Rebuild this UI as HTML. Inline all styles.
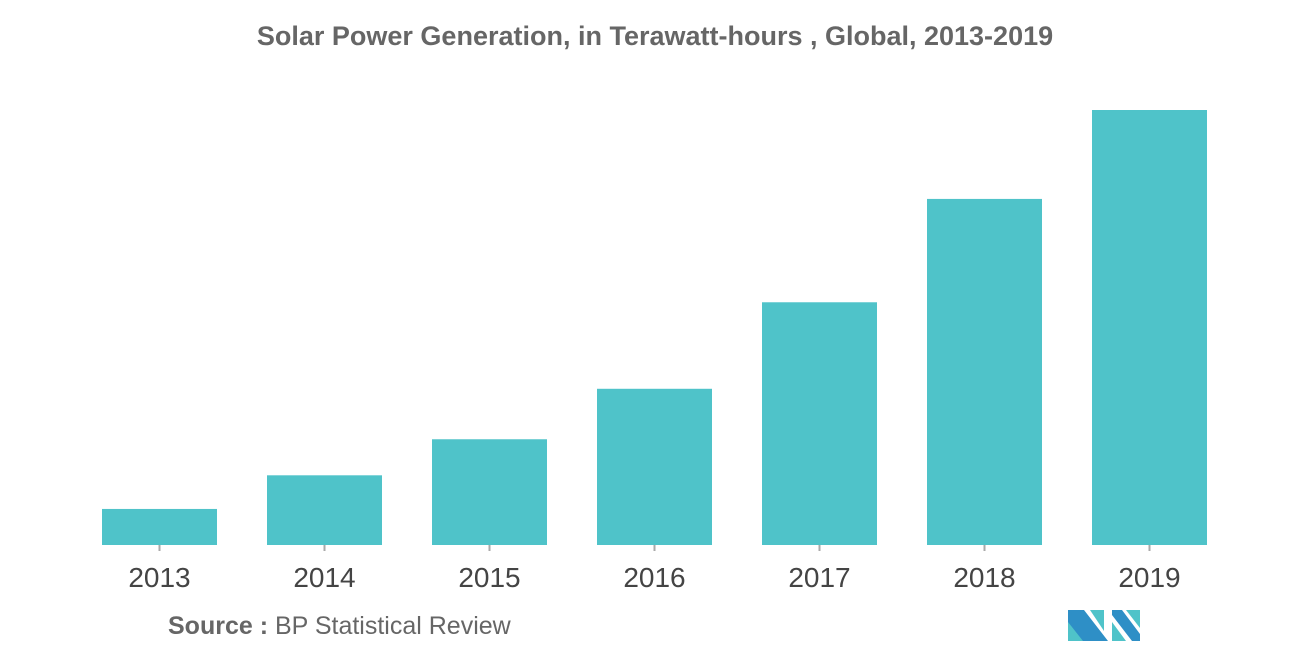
<!DOCTYPE html>
<html><head><meta charset="utf-8"><style>
body{margin:0;background:#fff;font-family:"Liberation Sans",sans-serif;}
</style></head><body>
<svg width="1310" height="655" xmlns="http://www.w3.org/2000/svg">
<text x="655" y="45" text-anchor="middle" font-size="27" fill="#666" font-weight="bold">Solar Power Generation, in Terawatt-hours , Global, 2013-2019</text>
<g id="bars"></g>
<g id="xlabels"></g>
<text x="168" y="634" font-size="25" fill="#666"><tspan font-weight="bold">Source :</tspan> BP Statistical Review</text>
<g>
<polygon points="1068,610 1084,610 1108,641 1068,641" fill="#2e8fc6"/>
<polygon points="1068,622 1083,641 1068,641" fill="#4fc3c9"/>
<polygon points="1090,610 1104,610 1104,631" fill="#4fc3c9"/>
<polygon points="1112,610 1122,610 1140,634 1140,641 1132,641 1112,615" fill="#2e8fc6"/>
<polygon points="1112,622 1126,641 1112,641" fill="#4fc3c9"/>
<polygon points="1126,610 1140,610 1140,628" fill="#4fc3c9"/>
</g>
</svg>
<script>
const categories=["2013","2014","2015","2016","2017","2018","2019"];
const values=[60,116,176,260,404,576,724];
const yMax=724;
const baseY=545, plotH=435, x0=102, step=165, bw=115;
const y=v=>baseY-v/yMax*plotH;
const ns="http://www.w3.org/2000/svg";
const bars=document.getElementById('bars'), xl=document.getElementById('xlabels');
categories.forEach((c,i)=>{
  const x=x0+i*step;
  const r=document.createElementNS(ns,'rect');
  r.setAttribute('x',x);r.setAttribute('y',y(values[i]));
  r.setAttribute('width',bw);r.setAttribute('height',baseY-y(values[i]));
  r.setAttribute('fill','#4fc3c9');
  
  
  bars.appendChild(r);
  const t=document.createElementNS(ns,'line');
  t.setAttribute('x1',x+bw/2);t.setAttribute('x2',x+bw/2);
  t.setAttribute('y1',baseY);t.setAttribute('y2',baseY+6);
  t.setAttribute('stroke','#aaa');t.setAttribute('stroke-width','2');
  
  
  xl.appendChild(t);
  const l=document.createElementNS(ns,'text');
  l.setAttribute('x',x+bw/2);l.setAttribute('y',587);
  l.setAttribute('text-anchor','middle');l.setAttribute('font-size','28');l.setAttribute('fill','#444');
  l.textContent=c;
  
  
  xl.appendChild(l);
});
</script>
</body></html>
